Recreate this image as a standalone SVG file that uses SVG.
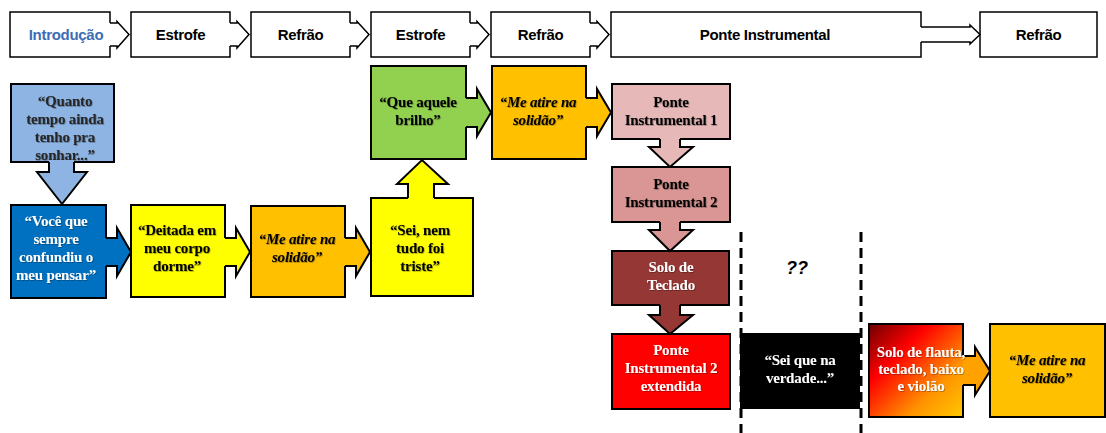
<svg xmlns="http://www.w3.org/2000/svg" width="1106" height="433" viewBox="0 0 1106 433">
<defs>
<linearGradient id="gradSolo" x1="0" y1="0" x2="1" y2="1">
<stop offset="0" stop-color="#6E0000"/>
<stop offset="0.32" stop-color="#FF0000"/>
<stop offset="0.7" stop-color="#FF9200"/>
<stop offset="1" stop-color="#FFC800"/>
</linearGradient>
<filter id="tsh" x="-10%" y="-20%" width="130%" height="150%">
<feDropShadow dx="0.8" dy="0.8" stdDeviation="0.4" flood-color="#000" flood-opacity="0.35"/>
</filter>
</defs>
<style>
.top{fill:#fff;stroke:#000;stroke-width:1.5}
.tt{font-family:"Liberation Sans",Arial,sans-serif;font-weight:bold;font-size:15px;letter-spacing:-0.3px;text-anchor:middle;fill:#000}
.bx{stroke:#000;stroke-width:2}
.st{fill:none;stroke:#000;stroke-width:2;stroke-linejoin:miter}
.sm{fill:none;stroke:#000;stroke-width:1.5}
.lt{font-family:"Liberation Serif","Times New Roman",serif;font-weight:bold;font-size:15px;text-anchor:middle;letter-spacing:-0.2px;filter:url(#tsh)}
.it{font-style:italic}
.dk{fill:#000}
.wt{fill:#fff}
.dash{stroke:#000;stroke-width:3;stroke-dasharray:10 6;fill:none}
</style>
<rect width="1106" height="433" fill="#fff"/>

<!-- top bar nodes -->
<g id="top-introducao"><rect class="top" x="10" y="12" width="100" height="45"/><text class="tt" x="66" y="40" style="fill:#3C6DB4">Introdução</text></g>
<g id="top-estrofe1"><rect class="top" x="131" y="12" width="99" height="45"/><text class="tt" x="180.5" y="40">Estrofe</text></g>
<g id="top-refrao1"><rect class="top" x="251" y="12" width="99" height="45"/><text class="tt" x="300.5" y="40">Refrão</text></g>
<g id="top-estrofe2"><rect class="top" x="371" y="12" width="99" height="45"/><text class="tt" x="420.5" y="40">Estrofe</text></g>
<g id="top-refrao2"><rect class="top" x="491" y="12" width="99" height="45"/><text class="tt" x="540.5" y="40">Refrão</text></g>
<g id="top-ponte"><rect class="top" x="611" y="12" width="310" height="45"/><text class="tt" x="765" y="40">Ponte Instrumental</text></g>
<g id="top-refrao3"><rect class="top" x="980" y="12" width="117" height="45"/><text class="tt" x="1038.5" y="40">Refrão</text></g>

<!-- lower nodes -->
<g id="n-quanto"><rect class="bx" x="11" y="84" width="103" height="78" fill="#8EB4E3"/>
<text class="lt" fill="#262626"><tspan x="65" y="106">“Quanto</tspan><tspan x="65" y="124">tempo ainda</tspan><tspan x="65" y="142">tenho pra</tspan><tspan x="65" y="160">sonhar...”</tspan></text></g>
<g id="n-voce"><rect class="bx" x="11" y="205" width="95" height="93" fill="#0070C0"/>
<text class="lt wt"><tspan x="56" y="226">“Você que</tspan><tspan x="56" y="244">sempre</tspan><tspan x="56" y="262">confundiu o</tspan><tspan x="56" y="280">meu pensar”</tspan></text></g>
<g id="n-deitada"><rect class="bx" x="131" y="205" width="94" height="92" fill="#FFFF00"/>
<text class="lt dk"><tspan x="177" y="235">“Deitada em</tspan><tspan x="177" y="253">meu corpo</tspan><tspan x="177" y="271">dorme”</tspan></text></g>
<g id="n-meatire1"><rect class="bx" x="251" y="206" width="94" height="91" fill="#FFC000"/>
<text class="lt dk it"><tspan x="297" y="244">“Me atire na</tspan><tspan x="297" y="262">solidão”</tspan></text></g>
<g id="n-sei"><rect class="bx" x="371" y="198" width="102" height="98" fill="#FFFF00"/>
<text class="lt dk"><tspan x="420" y="235">“Sei, nem</tspan><tspan x="420" y="253">tudo foi</tspan><tspan x="420" y="271">triste”</tspan></text></g>
<g id="n-queaquele"><rect class="bx" x="371" y="66" width="95" height="93" fill="#92D050"/>
<text class="lt dk"><tspan x="418" y="107">“Que aquele</tspan><tspan x="418" y="125">brilho”</tspan></text></g>
<g id="n-meatire2"><rect class="bx" x="492" y="66" width="94" height="93" fill="#FFC000"/>
<text class="lt dk it"><tspan x="538" y="107">“Me atire na</tspan><tspan x="538" y="125">solidão”</tspan></text></g>
<g id="n-ponte1"><rect class="bx" x="612" y="84" width="118" height="55" fill="#E6B9B8"/>
<text class="lt dk"><tspan x="671" y="107">Ponte</tspan><tspan x="671" y="125">Instrumental 1</tspan></text></g>
<g id="n-ponte2"><rect class="bx" x="612" y="167" width="118" height="55" fill="#D99694"/>
<text class="lt dk"><tspan x="671" y="189">Ponte</tspan><tspan x="671" y="207">Instrumental 2</tspan></text></g>
<g id="n-soloteclado"><rect class="bx" x="612" y="251" width="117" height="54" fill="#953735"/>
<text class="lt wt"><tspan x="671" y="272">Solo de</tspan><tspan x="671" y="290">Teclado</tspan></text></g>
<g id="n-ponte2ext"><rect class="bx" x="612" y="334" width="118" height="75" fill="#FF0000"/>
<text class="lt wt"><tspan x="671" y="355">Ponte</tspan><tspan x="671" y="373">Instrumental 2</tspan><tspan x="671" y="391">extendida</tspan></text></g>
<g id="n-seique"><rect x="740" y="333" width="120" height="76" fill="#000"/>
<text class="lt wt"><tspan x="800" y="365">“Sei que na</tspan><tspan x="800" y="383">verdade...”</tspan></text></g>
<g id="n-qq"><text x="797" y="274" font-family="'Liberation Sans',Arial,sans-serif" font-weight="bold" font-style="italic" font-size="18" text-anchor="middle" fill="#000">??</text></g>
<g id="n-meatire3"><rect class="bx" x="990" y="324" width="115" height="93" fill="#FFC000"/>
<text class="lt dk it"><tspan x="1047" y="365">“Me atire na</tspan><tspan x="1047" y="383">solidão”</tspan></text></g>

<!-- connectors -->
<g id="connectors">
<g fill="#fff">
<path d="M108,23 H117 V21.5 L129,34.5 L117,48 V46 H108 Z"/>
<path d="M228,23 H237 V21.5 L249,34.5 L237,48 V46 H228 Z"/>
<path d="M348,23 H357 V21.5 L369,34.5 L357,48 V46 H348 Z"/>
<path d="M468,23 H477 V21.5 L489,34.5 L477,48 V46 H468 Z"/>
<path d="M588,23 H597 V21.5 L609,34.5 L597,48 V46 H588 Z"/>
<path d="M919,27 H970 V25 L980,34.5 L970,44 V42 H919 Z"/>
</g>
<g class="sm">
<path d="M110,23 H117 V21.5 L129,34.5 L117,48 V46 H110"/>
<path d="M230,23 H237 V21.5 L249,34.5 L237,48 V46 H230"/>
<path d="M350,23 H357 V21.5 L369,34.5 L357,48 V46 H350"/>
<path d="M470,23 H477 V21.5 L489,34.5 L477,48 V46 H470"/>
<path d="M590,23 H597 V21.5 L609,34.5 L597,48 V46 H590"/>
<path d="M921,27 H970 V25 L980,34.5 L970,44 V42 H921"/>
</g>
<path fill="#8EB4E3" d="M49,160 H74 V172 H87 L62,204 L37,172 H49 Z"/>
<path fill="#0070C0" d="M104,238 H117 V228 L131,252 L117,276 V266 H104 Z"/>
<path fill="#FFFF00" d="M223,238 H236 V228 L250,252 L236,276 V266 H223 Z"/>
<path fill="#FFC000" d="M343,238 H356 V228 L370,252 L356,276 V266 H343 Z"/>
<path fill="#FFFF00" d="M408,200 V184 H397 L422,160 L448,184 H434 V200 Z"/>
<path fill="#92D050" d="M464,98 H477 V89 L491,112.5 L477,136 V127 H464 Z"/>
<path fill="#FFC000" d="M584,98 H597 V89 L611,112.5 L597,136 V127 H584 Z"/>
<path fill="#E6B9B8" d="M660,137 V147 H649 L670,167 L693,147 H680 V137 Z"/>
<path fill="#D99694" d="M660,220 V230 H649 L670,251 L693,230 H680 V220 Z"/>
<path fill="#953735" d="M660,303 V315 H649 L670,334 L693,315 H680 V303 Z"/>
<path fill="#FFA200" d="M961,356 H975 V347 L990,371 L975,395 V385 H961 Z"/>
<g class="st">
<path d="M49,162 V172 H37 L62,204 L87,172 H74 V162"/>
<path d="M106,238 H117 V228 L131,252 L117,276 V266 H106"/>
<path d="M225,238 H236 V228 L250,252 L236,276 V266 H225"/>
<path d="M345,238 H356 V228 L370,252 L356,276 V266 H345"/>
<path d="M408,198 V184 H397 L422,160 L448,184 H434 V198"/>
<path d="M466,98 H477 V89 L491,112.5 L477,136 V127 H466"/>
<path d="M586,98 H597 V89 L611,112.5 L597,136 V127 H586"/>
<path d="M660,139 V147 H649 L670,167 L693,147 H680 V139"/>
<path d="M660,222 V230 H649 L670,251 L693,230 H680 V222"/>
<path d="M660,305 V315 H649 L670,334 L693,315 H680 V305"/>
<path d="M963,356 H975 V347 L990,371 L975,395 V385 H963"/>
</g>
<line class="dash" x1="741" y1="232" x2="741" y2="433"/>
<line class="dash" x1="861" y1="232" x2="861" y2="433"/>
</g>

<g id="n-solo-flauta">
<rect x="869" y="324" width="94" height="93" fill="url(#gradSolo)"/>
<path d="M963,356 V324 H869 V417 H963 V385" fill="none" stroke="#000" stroke-width="2"/>
<text class="lt wt"><tspan x="921" y="357">Solo de flauta,</tspan><tspan x="921" y="374">teclado, baixo</tspan><tspan x="921" y="391">e violão</tspan></text></g>
</svg>
